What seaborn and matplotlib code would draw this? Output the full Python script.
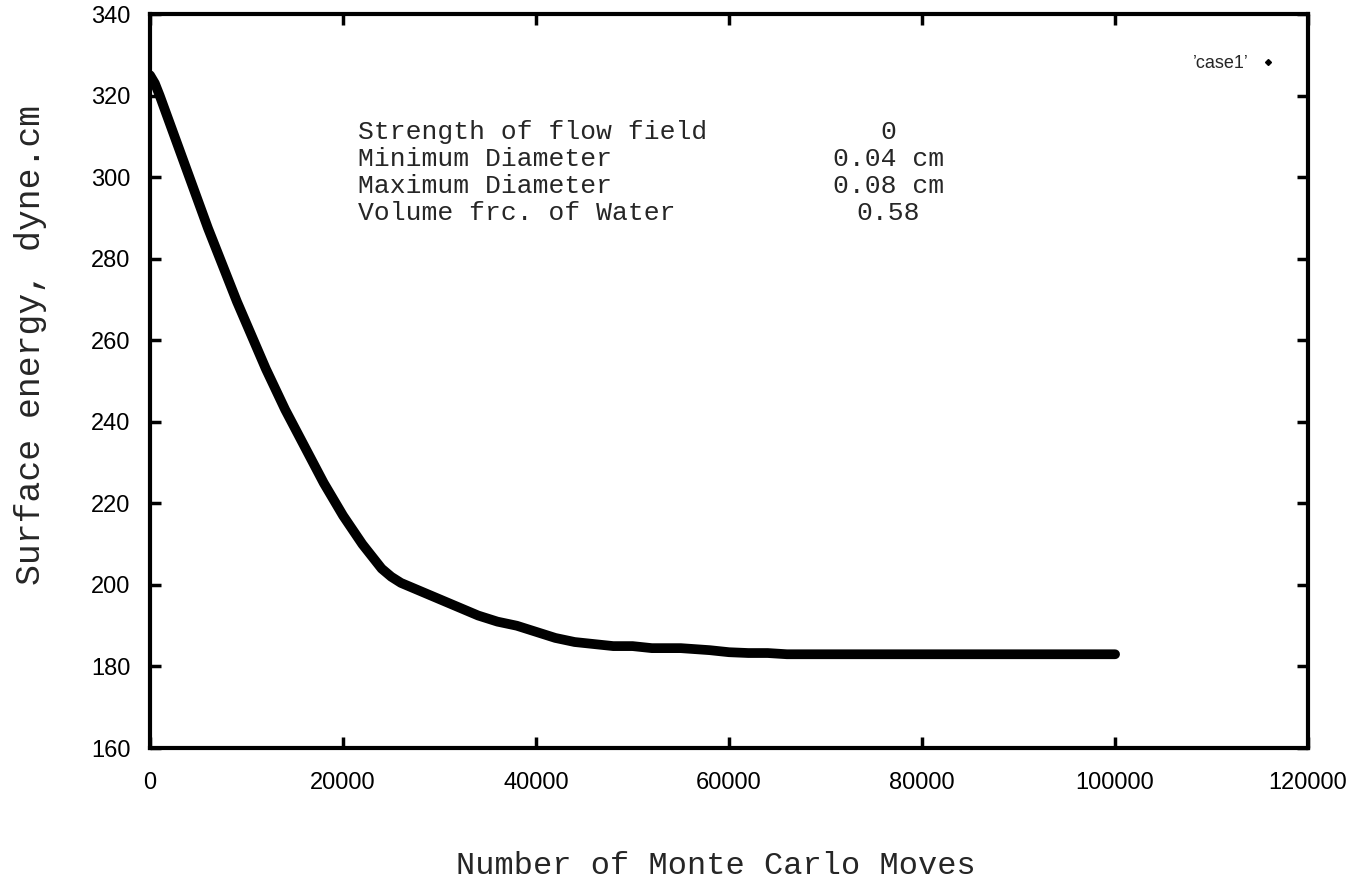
import matplotlib
matplotlib.use("Agg")
import matplotlib.pyplot as plt
from matplotlib.lines import Line2D
import seaborn as sns
import pandas as pd

# Surface energy relaxation over Monte Carlo moves
moves = [0, 500, 1000, 2000, 3000, 4000, 5000, 6000, 7000, 8000, 9000, 10000,
         11000, 12000, 13000, 14000, 15000, 16000, 17000, 18000, 19000, 20000,
         21000, 22000, 23000, 24000, 25000, 26000, 27000, 28000, 30000, 32000,
         34000, 36000, 38000, 40000, 42000, 44000, 46000, 48000, 50000, 52000,
         55000, 58000, 60000, 62000, 64000, 66000, 70000, 80000, 90000, 100000]
energy = [325, 323, 320, 313.5, 307, 300.5, 294, 287.5, 281.5, 275.5, 269.5, 264,
          258.5, 253, 248, 243, 238.5, 234, 229.5, 225, 221, 217,
          213.5, 210, 207, 204, 202, 200.5, 199.5, 198.5, 196.5, 194.5,
          192.5, 191, 190, 188.5, 187, 186, 185.5, 185, 185, 184.5,
          184.5, 184, 183.5, 183.3, 183.3, 183, 183, 183, 183, 183]

x_ticks = [0, 20000, 40000, 60000, 80000, 100000, 120000]
y_ticks = [160, 180, 200, 220, 240, 260, 280, 300, 320, 340]

param_names = ["Strength of flow field", "Minimum Diameter",
               "Maximum Diameter", "Volume frc. of Water"]
param_values = ["0", "0.04 cm", "0.08 cm", "0.58"]

series_label = "\u2019case1\u2019"

sns.set_theme(style="ticks")
sans = ["Liberation Sans Narrow", "Liberation Sans", "DejaVu Sans"]
mono = ["Liberation Mono", "DejaVu Sans Mono"]
plt.rcParams["font.family"] = sans

df = pd.DataFrame({"moves": moves, "energy": energy})

fig = plt.figure(figsize=(13.48, 8.84), dpi=100)
ax = fig.add_axes([0.1113, 0.1538, 0.8591, 0.8303])

sns.lineplot(data=df, x="moves", y="energy", ax=ax, color="black",
             linewidth=7, solid_capstyle="round", solid_joinstyle="round",
             legend=False)

ax.set_xlim(0, 120000)
ax.set_ylim(160, 340)
ax.set_xticks(x_ticks)
ax.set_yticks(y_ticks)
ax.set_xticklabels([str(t) for t in x_ticks])
ax.set_yticklabels([str(t) for t in y_ticks])
ax.tick_params(direction="in", length=8, width=2.5, top=True, right=True,
               labelsize=17, colors="black")
ax.tick_params(axis="x", pad=17)
ax.tick_params(axis="y", pad=14)
for s in ax.spines.values():
    s.set_linewidth(3)
    s.set_color("black")

ax.set_xlabel("Number of Monte Carlo Moves", family=mono, fontsize=23,
              va="center")
ax.xaxis.set_label_coords(0.489, -0.161)
ax.set_ylabel("Surface energy, dyne.cm", family=mono, fontsize=25,
              va="center")
ax.yaxis.set_label_coords(-0.1035, 0.549)

for i, (name, val) in enumerate(zip(param_names, param_values)):
    yy = 0.839 - i * 0.0369
    ax.text(0.1796, yy, name, transform=ax.transAxes, family=mono,
            fontsize=19, va="center", ha="left")
    ax.text(0.6375, yy, val, transform=ax.transAxes, family=mono,
            fontsize=19, va="center", ha="center")

handle = Line2D([], [], color="black", marker="D", markersize=3,
                linestyle="none")
ax.legend([handle], [series_label], loc="upper right", frameon=False,
          markerfirst=False, bbox_to_anchor=(0.9875, 0.966),
          handlelength=1.0, handletextpad=0.6,
          prop={"family": sans, "size": 13})

fig.savefig("out.png", dpi=100)
